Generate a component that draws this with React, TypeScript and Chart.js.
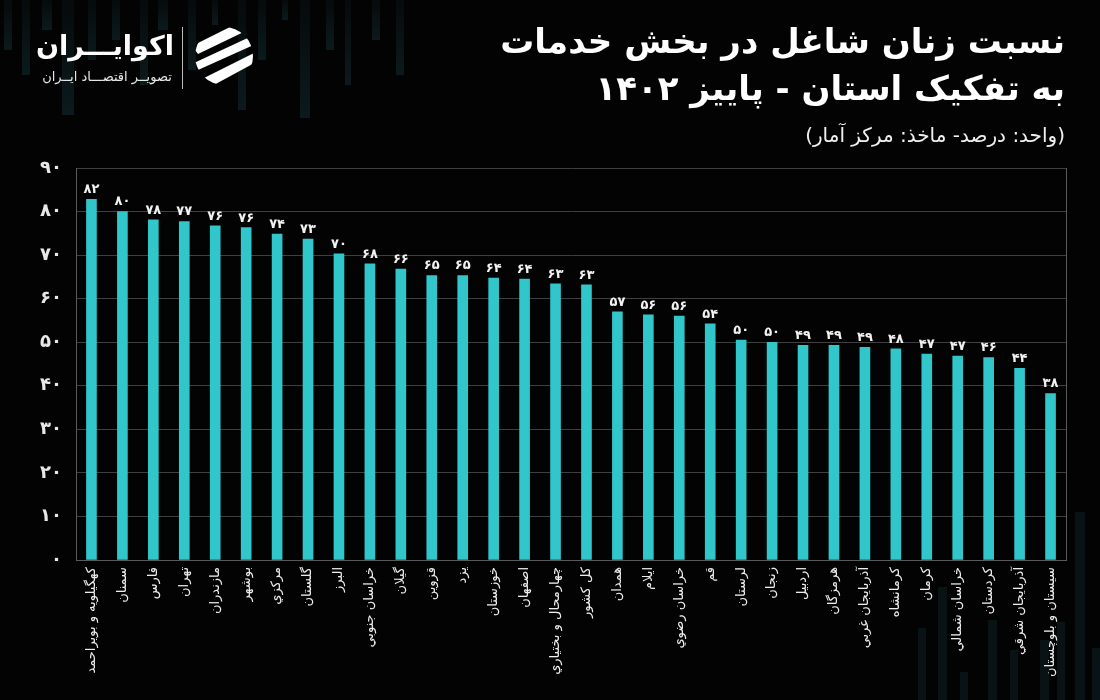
import React, { useEffect, useRef } from "react";
import { Chart, registerables } from "chart.js";

Chart.register(...registerables);

const categories: string[] = [
  "کهگیلویه و بویراحمد",
  "سمنان",
  "فارس",
  "تهران",
  "مازندران",
  "بوشهر",
  "مرکزي",
  "گلستان",
  "البرز",
  "خراسان جنوبي",
  "گيلان",
  "قزوين",
  "يزد",
  "خوزستان",
  "اصفهان",
  "چهارمحال و بختياري",
  "کل کشور",
  "همدان",
  "ايلام",
  "خراسان رضوي",
  "قم",
  "لرستان",
  "زنجان",
  "اردبيل",
  "هرمزگان",
  "آذربايجان غربي",
  "کرمانشاه",
  "کرمان",
  "خراسان شمالي",
  "کردستان",
  "آذربايجان شرقي",
  "سيستان و بلوچستان",
];

const values: number[] = [
  82.8, 80.0, 78.1, 77.7, 76.7, 76.3, 74.8, 73.7, 70.3, 68.0, 66.8, 65.3,
  65.3, 64.7, 64.5, 63.4, 63.2, 57.0, 56.3, 56.0, 54.2, 50.5, 50.0, 49.3,
  49.3, 48.8, 48.5, 47.3, 46.8, 46.5, 44.0, 38.2,
];

const valueLabels: number[] = [
  82, 80, 78, 77, 76, 76, 74, 73, 70, 68, 66, 65, 65, 64, 64, 63, 63, 57, 56,
  56, 54, 50, 50, 49, 49, 49, 48, 47, 47, 46, 44, 38,
];

const yTicks: number[] = [0, 10, 20, 30, 40, 50, 60, 70, 80, 90];

const FA_DIGITS = "۰۱۲۳۴۵۶۷۸۹";
const toFa = (n: number | string) =>
  String(n).replace(/[0-9]/g, (d) => FA_DIGITS[Number(d)]);

const FONT = "'DejaVu Sans', 'Noto Sans', sans-serif";

export default function App() {
  const canvasRef = useRef<HTMLCanvasElement | null>(null);

  useEffect(() => {
    document.body.style.margin = "0";
    document.body.style.background = "#000";
    const canvas = canvasRef.current;
    if (!canvas) return;

    const labelPlugin = {
      id: "barLabels",
      afterDatasetsDraw(chart: any) {
        const ctx = chart.ctx;
        const meta = chart.getDatasetMeta(0);
        ctx.save();
        ctx.fillStyle = "#f2f2f2";
        ctx.font = `bold 13px ${FONT}`;
        ctx.textAlign = "center";
        ctx.textBaseline = "bottom";
        meta.data.forEach((bar: any, i: number) => {
          ctx.fillText(toFa(valueLabels[i]), bar.x, bar.y - 3);
        });
        ctx.restore();
      },
    };

    const chart = new Chart(canvas, {
      type: "bar",
      data: {
        labels: categories,
        datasets: [
          {
            data: values,
            backgroundColor: "#31c6c9",
            borderWidth: 0,
            barThickness: 10,
            yAxisID: "y",
          },
        ],
      },
      options: {
        animation: false,
        responsive: false,
        maintainAspectRatio: false,
        layout: { padding: { left: 0, right: 0, top: 168, bottom: 0 } },
        plugins: {
          legend: { display: false },
          tooltip: { enabled: false },
        },
        scales: {
          x: {
            grid: { display: false, drawTicks: false },
            border: { display: true, color: "#5a5a5a", width: 1 },
            ticks: {
              autoSkip: false,
              minRotation: 90,
              maxRotation: 90,
              color: "#eeeeee",
              font: { family: FONT, size: 13 },
              padding: 7,
            },
            afterFit(scale: any) {
              scale.height = 140;
            },
          },
          y: {
            min: 0,
            max: 90,
            afterBuildTicks(scale: any) {
              scale.ticks = yTicks.map((v) => ({ value: v }));
            },
            grid: { color: "#3f3f3f", lineWidth: 1, drawTicks: false },
            border: { display: true, color: "#5a5a5a", width: 1 },
            ticks: {
              color: "#e8e8e8",
              font: { family: FONT, size: 18, weight: "bold" },
              padding: 14,
              callback: (v: any) => toFa(v),
            },
            afterFit(scale: any) {
              scale.width = 76;
            },
          },
          y2: {
            position: "right",
            display: true,
            grid: { display: false, drawTicks: false },
            border: { display: true, color: "#5a5a5a", width: 1 },
            ticks: { display: false },
            afterFit(scale: any) {
              scale.width = 34;
            },
          },
        },
      } as any,
      plugins: [labelPlugin],
    });

    return () => chart.destroy();
  }, []);

  const stripes: Array<[number, number, number, number]> = [
    [4, 0, 8, 50], [22, 0, 8, 75], [42, 0, 10, 30], [62, 0, 12, 115],
    [88, 0, 8, 60], [112, 0, 8, 40], [140, 0, 8, 85], [158, 0, 10, 30],
    [188, 0, 8, 70], [212, 0, 6, 25], [238, 0, 8, 110], [258, 0, 8, 60],
    [282, 0, 6, 20], [300, 0, 10, 118], [326, 0, 8, 50], [345, 0, 6, 85],
    [372, 0, 8, 40], [396, 0, 8, 75],
    [918, 628, 8, 72], [938, 587, 9, 113], [960, 672, 8, 28],
    [988, 620, 9, 80], [1010, 650, 8, 50], [1040, 640, 9, 60],
    [1057, 622, 8, 78], [1075, 512, 10, 188], [1092, 648, 8, 52],
  ];

  return (
    <div
      style={{
        position: "fixed",
        left: 0,
        top: 0,
        width: 1100,
        height: 700,
        background: "#030303",
        overflow: "hidden",
        fontFamily: FONT,
      }}
    >
      {stripes.map(([x, y, w, h], i) => (
        <div
          key={i}
          style={{
            position: "absolute",
            left: x,
            top: y,
            width: w,
            height: h,
            background:
              y === 0
                ? "linear-gradient(to bottom, rgba(30,75,85,0.10), rgba(30,75,85,0.32))"
                : "rgba(30,75,85,0.22)",
          }}
        />
      ))}
      <canvas
        ref={canvasRef}
        width={1100}
        height={700}
        style={{ position: "absolute", left: 0, top: 0, width: 1100, height: 700 }}
      />
      <div
        dir="rtl"
        style={{
          position: "absolute",
          right: 35,
          top: 18,
          textAlign: "right",
          color: "#ffffff",
          whiteSpace: "nowrap",
        }}
      >
        <div style={{ fontSize: 34, fontWeight: "bold", lineHeight: "47px" }}>
          نسبت زنان شاغل در بخش خدمات
        </div>
        <div style={{ fontSize: 34, fontWeight: "bold", lineHeight: "47px" }}>
          به تفکیک استان - پاییز ۱۴۰۲
        </div>
        <div
          style={{
            fontSize: 20,
            lineHeight: "30px",
            marginTop: 8,
            color: "#f0f0f0",
          }}
        >
          (واحد: درصد- ماخذ: مرکز آمار)
        </div>
      </div>
      <div
        dir="rtl"
        style={{
          position: "absolute",
          left: 40,
          top: 25,
          width: 134,
          textAlign: "center",
          color: "#fff",
          whiteSpace: "nowrap",
        }}
      >
        <div style={{ fontSize: 27, fontWeight: "bold", lineHeight: "42px" }}>
          اکوایـــران
        </div>
        <div style={{ fontSize: 13, lineHeight: "20px", color: "#e8e8e8" }}>
          تصویــر اقتصـــاد ایــران
        </div>
      </div>
      <div
        style={{
          position: "absolute",
          left: 182,
          top: 27,
          width: 1,
          height: 62,
          background: "#bbbbbb",
        }}
      />
      <svg
        width={64}
        height={64}
        viewBox="0 0 64 64"
        style={{ position: "absolute", left: 192, top: 24 }}
      >
        <defs>
          <clipPath id="logoClip">
            <circle cx="32" cy="32" r="29" />
          </clipPath>
        </defs>
        <g clipPath="url(#logoClip)" fill="#ffffff">
          <polygon points="0,22 40,2 64,2 6,30" />
          <polygon points="0,40 64,10 64,20 6,46" />
          <polygon points="4,58 64,28 64,38 20,62" />
        </g>
      </svg>
    </div>
  );
}
